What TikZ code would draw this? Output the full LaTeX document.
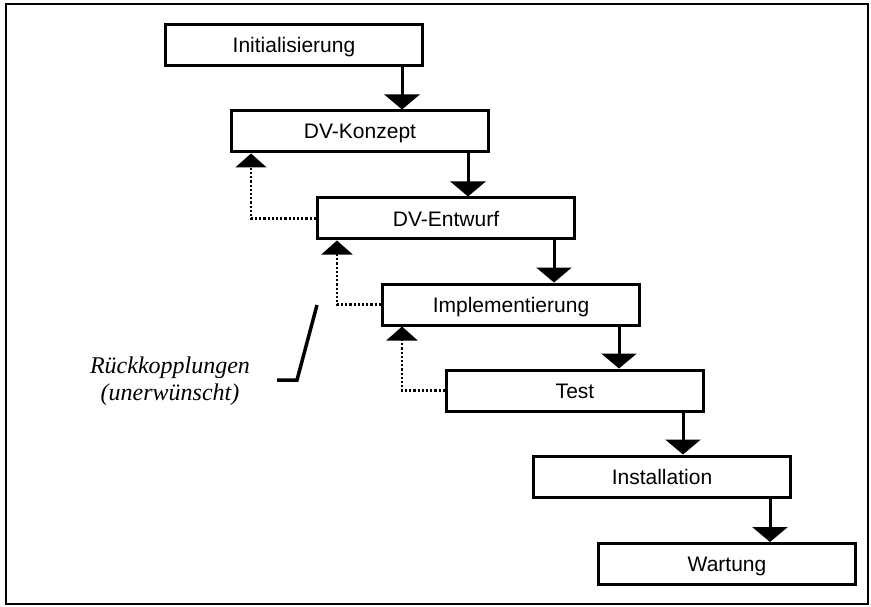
\documentclass[tikz,border=0pt]{standalone}
\usepackage{fontspec}
\setmainfont{Liberation Serif}
\setsansfont{Liberation Sans}
\usetikzlibrary{arrows.meta}

\begin{document}
\begin{tikzpicture}[x=1pt,y=-1pt,
    phase/.style={draw,line width=3pt,minimum width=257pt,minimum height=41pt,
      inner sep=0pt,text height=15pt,text depth=0pt,
      font=\sffamily\fontsize{21}{24}\selectfont},
    flow/.style={line width=3pt,-{Triangle[width=35pt,length=15pt]}},
    back/.style={line width=2.2pt,dash pattern=on 2.2pt off 2pt,
      -{Triangle[width=31pt,length=14pt]}}]
    \useasboundingbox (0,0) rectangle (871,607);
    \draw[line width=2.5pt] (6,4) rectangle (868,604);
    \node[phase] (init) at (294,45) {Initialisierung};
    \node[phase] (konzept) at (360,131.5) {DV-Konzept};
    \node[phase] (entwurf) at (446,218.5) {DV-Entwurf};
    \node[phase] (impl) at (511,304.5) {Implementierung};
    \node[phase] (test) at (575,390.5) {Test};
    \node[phase] (inst) at (662,476.5) {Installation};
    \node[phase] (wart) at (727,564) {Wartung};
    \foreach \a/\b in {init/konzept,konzept/entwurf,entwurf/impl,impl/test,test/inst,inst/wart}
    {
    \draw[flow] ([xshift=-22pt]\a.south east) -- ([xshift=-22pt]\a.south east |- \b.north);
    }
    \foreach \a/\b in {entwurf/konzept,impl/entwurf,test/impl}
    {
    \draw[back] (\a.west) -| ([xshift=21pt]\b.south west);
    }
    % Rueckkopplungen
    \node[align=center,inner sep=0pt,font=\itshape\fontsize{24}{27}\selectfont] (rk) at (170,381) {Rückkopplungen\\(unerwünscht)};
    \coordinate (rkend) at (277,380);
    \coordinate (rkknick) at (297,380);
    \coordinate (rktop) at (317,305);
    \draw[line width=3.5pt] (rkend) -- (rkknick) -- (rktop);
\end{tikzpicture}
\end{document}
